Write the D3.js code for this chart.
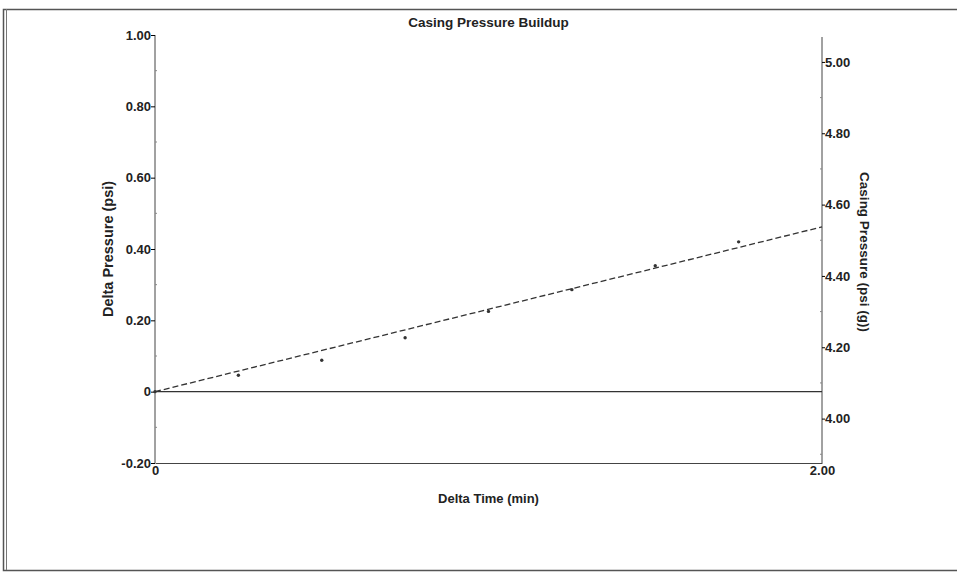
<!DOCTYPE html>
<html>
<head>
<meta charset="utf-8">
<script src="https://cdn.jsdelivr.net/npm/d3@7"></script>
<style>
  body { margin: 0; background: #fff; }
  text { font-family: "Liberation Sans", Arial, sans-serif; font-weight: bold; fill: #222; }
</style>
</head>
<body>
<div id="chart"></div>
<script>
// Measured points (delta time in min, delta pressure in psi)
const deltaTime = [0, 0.25, 0.5, 0.75, 1.0, 1.25, 1.5, 1.75];
const deltaPressure = [0, 0.046, 0.088, 0.151, 0.225, 0.286, 0.353, 0.420];

// Fitted straight line
const fitTime = [0, 2.0];
const fitPressure = [0, 0.462];

// Axis ticks
const leftTicks = [-0.2, 0, 0.2, 0.4, 0.6, 0.8, 1.0];
const rightTicks = [4.0, 4.2, 4.4, 4.6, 4.8, 5.0];
const timeTicks = [0, 2.0];

// casing pressure at delta pressure = 0
const casingOffset = 4.0755;

const W = 957, H = 573;
const margin = { top: 35, right: 135, bottom: 110, left: 155 },
      width = W - margin.left - margin.right,
      height = H - margin.top - margin.bottom;

// plain hyphen for negatives, like the original printout
const fmt2 = d => d === 0 ? "0" : d.toFixed(2);

const root = d3.select("#chart")
  .append("svg")
  .attr("width", W)
  .attr("height", H);

// Page frame from the scanned report (top, left double, bottom)
root.append("path")
  .attr("d", `M${W},9.5H3.5V${H - 2.5}H${W}`)
  .attr("fill", "none")
  .attr("stroke", "#555")
  .attr("stroke-width", 1.5);
root.append("line")
  .attr("x1", 6.5).attr("x2", 6.5)
  .attr("y1", 9).attr("y2", H - 3)
  .attr("stroke", "#777");

const svg = root.append("g")
  .attr("transform", `translate(${margin.left},${margin.top})`);

// Scales
const x = d3.scaleLinear().domain([0, 2.0]).range([0, width]);
const y = d3.scaleLinear().domain([-0.2, 1.0]).range([height, 0]);
const y2 = d3.scaleLinear()
  .domain([casingOffset - 0.2, casingOffset + 1.0])
  .range([height, 0]);

// Left axis
const leftAxis = svg.append("g")
  .call(d3.axisLeft(y).tickValues(leftTicks).tickSize(4).tickFormat(fmt2));
leftAxis.select(".domain").attr("stroke", "#444").attr("d", `M0,0V${height}`);
leftAxis.selectAll("text").style("font-size", "13px").attr("x", -4);
// minor ticks
svg.append("g").selectAll("line")
  .data(d3.range(-0.1, 1.0, 0.2))
  .enter().append("line")
  .attr("x1", 0).attr("x2", 2)
  .attr("y1", d => y(d)).attr("y2", d => y(d))
  .attr("stroke", "#888");

// Right axis
const rightAxis = svg.append("g")
  .attr("transform", `translate(${width},0)`)
  .call(d3.axisRight(y2).tickValues(rightTicks).tickSize(3).tickFormat(fmt2));
rightAxis.select(".domain").attr("stroke", "#444").attr("d", `M0,2V${height}`);
rightAxis.selectAll("text").style("font-size", "13px").attr("x", 3);
svg.append("g").selectAll("line")
  .data(d3.range(3.9, 5.05, 0.2))
  .enter().append("line")
  .attr("x1", width).attr("x2", width - 2)
  .attr("y1", d => y2(d)).attr("y2", d => y2(d))
  .attr("stroke", "#888");

// Bottom axis
const bottomAxis = svg.append("g")
  .attr("transform", `translate(0,${height})`)
  .call(d3.axisBottom(x).tickValues(timeTicks).tickSize(0).tickFormat(fmt2));
bottomAxis.select(".domain").attr("stroke", "#444");
bottomAxis.selectAll("text").style("font-size", "13px").attr("y", 3);

// Zero line
svg.append("line")
  .attr("x1", x(0)).attr("x2", x(2.0))
  .attr("y1", y(0)).attr("y2", y(0))
  .attr("stroke", "#333")
  .attr("stroke-width", 1.2);

// Fitted dashed line
svg.append("path")
  .datum(fitTime.map((t, i) => [t, fitPressure[i]]))
  .attr("fill", "none")
  .attr("stroke", "#333")
  .attr("stroke-width", 1.3)
  .attr("stroke-dasharray", "6,3")
  .attr("d", d3.line().x(d => x(d[0])).y(d => y(d[1])));

// Data points
svg.selectAll(".pt")
  .data(deltaTime.map((t, i) => [t, deltaPressure[i]]))
  .enter()
  .append("circle")
  .attr("class", "pt")
  .attr("cx", d => x(d[0]))
  .attr("cy", d => y(d[1]))
  .attr("r", 1.7)
  .attr("fill", "#333");

// Title
svg.append("text")
  .attr("x", width / 2)
  .attr("y", -8)
  .attr("text-anchor", "middle")
  .style("font-size", "13.5px")
  .text("Casing Pressure Buildup");

// Axis titles
svg.append("text")
  .attr("transform", `translate(-42,${height / 2}) rotate(-90)`)
  .attr("text-anchor", "middle")
  .style("font-size", "14.5px")
  .text("Delta Pressure (psi)");

svg.append("text")
  .attr("transform", `translate(${width + 38},${height / 2 + 3}) rotate(90)`)
  .attr("text-anchor", "middle")
  .style("font-size", "13.5px")
  .text("Casing Pressure (psi (g))");

svg.append("text")
  .attr("x", width / 2)
  .attr("y", height + 40)
  .attr("text-anchor", "middle")
  .style("font-size", "13px")
  .text("Delta Time (min)");
</script>
</body>
</html>
